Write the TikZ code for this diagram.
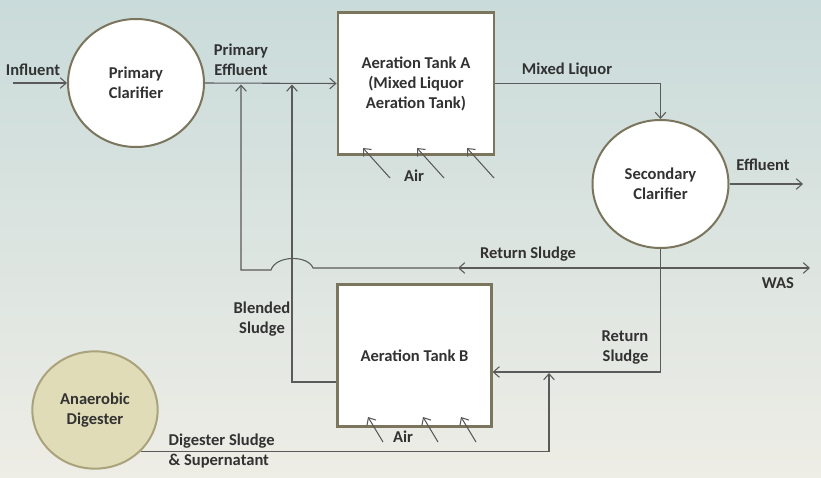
\documentclass[tikz,border=0pt]{standalone}
\usepackage{fontspec}
\setmainfont{Carlito}
\usetikzlibrary{arrows,arrows.meta,positioning,shapes.geometric}

\definecolor{rimcol}{RGB}{122,117,92}
\definecolor{pipecol}{RGB}{90,90,90}
\definecolor{txtcol}{RGB}{50,50,50}
\definecolor{digfill}{RGB}{224,220,184}
\definecolor{digrim}{RGB}{170,162,122}
\definecolor{bgtop}{RGB}{201,219,218}
\definecolor{bgbot}{RGB}{238,237,230}

\begin{document}
\begin{tikzpicture}[x=0.75pt, y=-0.75pt, >={Straight Barb[length=4.5pt,width=8pt]},
                    every node/.style={font=\bfseries\fontsize{12.4}{15}\selectfont,text=txtcol,align=center},
                    clarifier/.style={ellipse,draw=rimcol,line width=1.5pt,fill=white,minimum width=102pt,minimum height=96pt,inner sep=0pt},
                    digester/.style={ellipse,draw=digrim,line width=1.5pt,fill=digfill,minimum width=94pt,minimum height=88pt,inner sep=0pt},
                    tank/.style={rectangle,draw=rimcol,line width=2.2pt,fill=white,minimum width=115pt,minimum height=107pt},
                    flow/.style={draw=pipecol,line width=0.8pt,->}]

  \useasboundingbox (0,0) rectangle (821,478);
  \shade[top color=bgtop,bottom color=bgbot] (0,0) rectangle (821,478);

  \node[clarifier] (pc) at (136,83) {Primary\\Clarifier};
  \node[tank, minimum width=117pt] (ta) at (416,83.5) {Aeration Tank A\\(Mixed Liquor\\Aeration Tank)};
  \node[clarifier] (sc) at (660.5,184) {Secondary\\Clarifier};
  \node[tank] (tb) at (414.5,355.5) {Aeration Tank B};
  \node[digester] (ad) at (95,410) {Anaerobic\\Digester};

  \coordinate (inflow) at (13,83);
  \coordinate (effout) at (803,184);
  \coordinate (rsj) at (660.5,268);
  \coordinate (was) at (810,268);
  \coordinate (rsmid) at (458,268);
  \coordinate (hopR) at (313,268);
  \coordinate (hopL) at (271,270);
  \coordinate (rsup) at (241,84.5);
  \coordinate (bsl) at (292,382);
  \coordinate (bsup) at (292,84.5);
  \coordinate (rsb) at (660.5,372);
  \coordinate (dsj) at (549,373);

  \node (influentlbl) at (33,70) {Influent};
  \node (primefflbl) at (241,60) {Primary\\Effluent};
  \node (mixedlbl) at (567,70) {Mixed Liquor};
  \node (effluentlbl) at (763,165) {Effluent};
  \node (retlbl) at (528,254) {Return Sludge};
  \node (waslbl) at (778,283) {WAS};
  \node (blendlbl) at (262,319) {Blended\\Sludge};
  \node[align=right,anchor=east] (retblbl) at (653,348) {Return\\Sludge};
  \node[align=left,anchor=west] (diglbl) at (164,451) {Digester Sludge\\\& Supernatant};
  \node (airalbl) at (414,176) {Air};
  \node (airblbl) at (403,437) {Air};

  \draw[flow] (inflow) -- (pc.west);
  \draw[flow] (pc.east) -- (ta.west);
  \draw[flow] (ta.east) -| (sc.north);
  \draw[flow] (sc.east) -- (effout);
  \draw[flow] (sc.south) -- (rsj) -- (was);
  \draw[flow] (rsj) -- (rsmid);
  \draw[flow] (rsmid) -- (hopR) .. controls (308,255) and (276,255) .. (hopL) -| (rsup);
  \draw[flow] (bsl -| tb.west) -| (bsup);
  \draw[flow] (rsj) -- (rsb) -- (rsb -| tb.east);
  \draw[flow] (ad.-42) -| (dsj);

  \foreach \ax in {363,417,467}
    \draw[flow] (\ax+27,178) -- (\ax,148);
  \foreach \bx in {368,423,461}
    \draw[flow] (\bx+15,442) -- (\bx,417);
\end{tikzpicture}
\end{document}
